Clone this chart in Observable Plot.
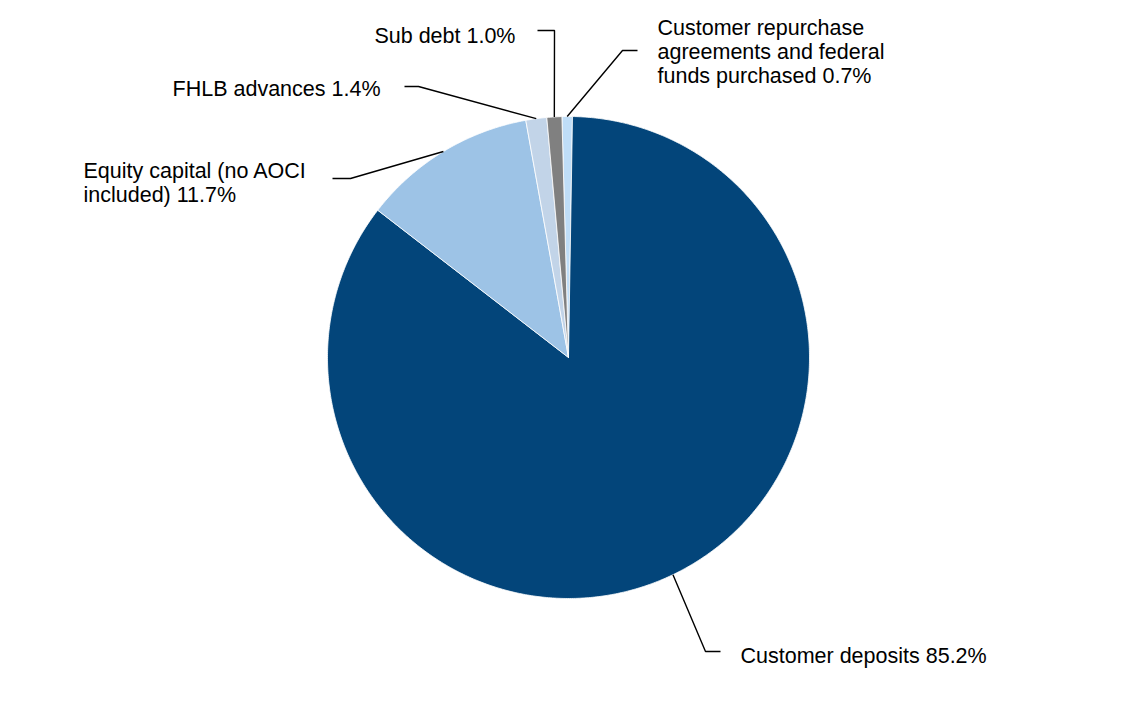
<!DOCTYPE html>
<html><head><meta charset="utf-8">
<script src="https://cdn.jsdelivr.net/npm/d3@7"></script>
<script src="https://cdn.jsdelivr.net/npm/@observablehq/plot@0.6"></script>
<style>body{margin:0;background:#fff}</style>
</head><body><div id="chart"></div>
<script>
// ---- data (clockwise from 12 o'clock) ----
const categories = [
  "Customer repurchase agreements and federal funds purchased",
  "Customer deposits",
  "Equity capital (no AOCI included)",
  "FHLB advances",
  "Sub debt"
];
const values = [0.7, 85.2, 11.7, 1.4, 1.0];
const labelLines = [
  ["Customer repurchase", "agreements and federal", "funds purchased"],
  ["Customer deposits"],
  ["Equity capital (no AOCI", "included)"],
  ["FHLB advances"],
  ["Sub debt"]
];
const colors = ["#BFDDF7", "#03457A", "#9DC3E6", "#C2D4E8", "#808080"];

// ---- layout ----
const W = 1134, H = 716, cx = 568, cy = 357, R = 241;
const startDeg = -1.57;
// label layout in pixels: elbow, end of stub, text anchor
const labelLayout = [
  {elbow: [622, 50], end: [637, 50], text: [657, 51], anchor: "start"},
  {elbow: [705, 651], end: [720, 651], text: [740, 655], anchor: "start"},
  {elbow: [350, 178], end: [332, 178], text: [83, 182], anchor: "start"},
  {elbow: [418, 86], end: [404, 86], text: [380, 88], anchor: "end"},
  {elbow: [554, 30], end: [537, 30], text: [515, 35], anchor: "end"}
];
const ux = px => (px - cx) / R, uy = py => (cy - py) / R;

const total = d3.sum(values);
let acc = startDeg;
const slices = values.map((v, i) => {
  const a0 = acc, a1 = acc + v / total * 360;
  acc = a1;
  return {key: categories[i], a0, a1, mid: (a0 + a1) / 2};
});
const rad = d => d * Math.PI / 180;
const slicePts = slices.flatMap(s => {
  const n = Math.max(2, Math.ceil((s.a1 - s.a0) / 0.5));
  const pts = [{key: s.key, x: 0, y: 0}];
  for (let k = 0; k <= n; k++) {
    const a = rad(s.a0 + (s.a1 - s.a0) * k / n);
    pts.push({key: s.key, x: Math.sin(a), y: Math.cos(a)});
  }
  pts.push({key: s.key, x: 0, y: 0});
  return pts;
});
const leaderPts = slices.flatMap((s, i) => {
  const L = labelLayout[i];
  return [
    {key: s.key, x: Math.sin(rad(s.mid)), y: Math.cos(rad(s.mid))},
    {key: s.key, x: ux(L.elbow[0]), y: uy(L.elbow[1])},
    {key: s.key, x: ux(L.end[0]), y: uy(L.end[1])}
  ];
});
const labels = slices.map((s, i) => {
  const L = labelLayout[i];
  const lines = labelLines[i].slice();
  lines[lines.length - 1] += " " + values[i].toFixed(1) + "%";
  return {text: lines.join("\n"), x: ux(L.text[0]), y: uy(L.text[1]), anchor: L.anchor};
});

const fs = 21.5;
const chart = Plot.plot({
  width: W, height: H,
  marginTop: 0, marginRight: 0, marginBottom: 0, marginLeft: 0,
  x: {domain: [-cx / R, (W - cx) / R], range: [0, W], axis: null},
  y: {domain: [(cy - H) / R, cy / R], range: [H, 0], axis: null},
  color: {domain: categories, range: colors},
  style: {fontFamily: "'Liberation Sans', Arial, sans-serif", background: "white", color: "black"},
  marks: [
    Plot.line(slicePts, {x: "x", y: "y", z: "key", fill: "key", stroke: "white", strokeWidth: 0.8, strokeLinejoin: "miter"}),
    Plot.line(leaderPts, {x: "x", y: "y", z: "key", stroke: "black", strokeWidth: 1.4, strokeLinejoin: "miter", strokeLinecap: "butt"}),
    Plot.text(labels.filter(d => d.anchor === "start"), {x: "x", y: "y", text: "text", textAnchor: "start", fontSize: fs, lineHeight: 24 / fs, fill: "black"}),
    Plot.text(labels.filter(d => d.anchor === "end"), {x: "x", y: "y", text: "text", textAnchor: "end", fontSize: fs, lineHeight: 24 / fs, fill: "black"})
  ]
});
document.getElementById("chart").appendChild(chart);
</script>
</body></html>
